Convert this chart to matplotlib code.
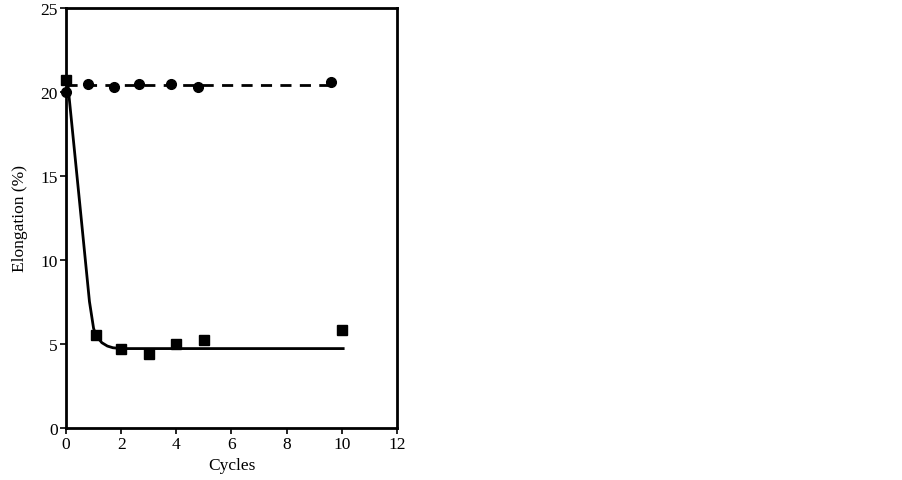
import matplotlib.pyplot as plt

# measured points
circle_x = [0.0, 0.8, 1.75, 2.65, 3.8, 4.8, 9.6]
circle_y = [20.0, 20.45, 20.25, 20.45, 20.45, 20.25, 20.6]
square_x = [0.0, 1.1, 2.0, 3.0, 4.0, 5.0, 10.0]
square_y = [20.7, 5.5, 4.7, 4.4, 5.0, 5.2, 5.8]

# trend lines
dash_x = [0.0, 9.6]
dash_y = [20.4, 20.4]
fit_x = [0.05, 0.5, 0.85, 1.0, 1.1, 1.3, 1.5, 1.7, 2.0, 10.05]
fit_y = [20.7, 13.3, 7.5, 5.9, 5.45, 5.05, 4.85, 4.75, 4.7, 4.7]

plt.rcParams['font.family'] = ['Liberation Serif', 'DejaVu Serif']

fig = plt.figure(figsize=(9.03, 4.81), dpi=100)
ax = fig.add_axes([0.0731, 0.1091, 0.3665, 0.873])

ax.plot(dash_x, dash_y, '--', color='black', lw=2, dashes=(4, 3))
ax.plot(fit_x, fit_y, '-', color='black', lw=2)
ax.plot(circle_x, circle_y, 'o', color='black', ms=7, clip_on=False)
ax.plot(square_x, square_y, 's', color='black', ms=7.5, clip_on=False)

ax.set_xlim(0, 12)
ax.set_ylim(0, 25)
ax.set_xticks(range(0, 13, 2))
ax.set_yticks(range(0, 26, 5))
ax.tick_params(direction='out', length=4, width=1.2, labelsize=12.5, pad=2)
for s in ax.spines.values():
    s.set_linewidth(2)

ax.set_xlabel('Cycles', fontsize=12.5, labelpad=4)
ax.set_ylabel('Elongation (%)', fontsize=12.5, labelpad=9)

plt.savefig('out.png', dpi=100)
